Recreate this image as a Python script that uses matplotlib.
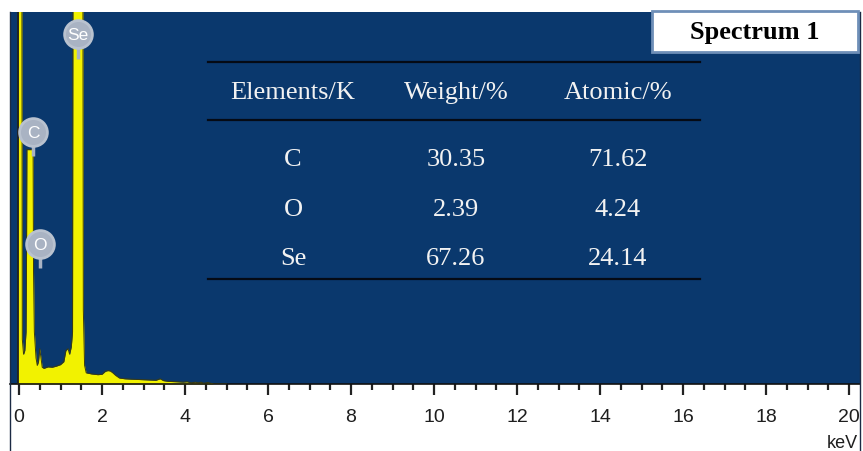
import numpy as np
import matplotlib.pyplot as plt
from matplotlib.patches import Rectangle
from matplotlib.lines import Line2D

# EDS spectrum, energy in keV and counts (arbitrary units, 100 = top of frame)
energy = [-0.04, -0.03, -0.02, 0.07, 0.08, 0.11, 0.14, 0.17, 0.18, 0.19, 0.34, 0.35,
          0.37, 0.41, 0.44, 0.47, 0.50, 0.53, 0.56, 0.60, 0.70, 0.80, 0.90, 1.00,
          1.08, 1.13, 1.18, 1.22, 1.26, 1.29, 1.30, 1.54, 1.55, 1.58, 1.62, 1.75,
          1.90, 2.00, 2.08, 2.14, 2.20, 2.26, 2.33, 2.42, 2.55, 2.70, 2.90, 3.10,
          3.30, 3.40, 3.48, 3.60, 3.80, 3.95, 4.05, 4.15, 4.25, 4.32, 4.38, 4.45,
          4.55, 4.62, 4.70, 5.00]
counts = [0, 0, 110, 110, 12, 8, 9, 14, 30, 63, 63, 30,
          14, 7, 5, 6, 9.5, 7, 4.5, 4.2, 4.6, 4.5, 4.8, 5.2,
          6.0, 9.0, 9.5, 8.0, 10, 14, 110, 110, 20, 5, 3, 2.7,
          2.5, 2.6, 3.4, 3.6, 3.5, 3.0, 2.3, 1.6, 1.4, 1.3, 1.2, 1.1,
          1.0, 1.4, 0.9, 0.7, 0.6, 0.5, 0.6, 0.3, 0.5, 0.3, 0.5, 0.2,
          0.4, 0.2, 0.0, 0.0]

# peak markers: element, energy, label height
peak_names = ['Se', 'C', 'O']
peak_energy = [1.42, 0.34, 0.51]
peak_height = [94, 67.7, 37.6]

# quantification table
table_header = ['Elements/K', 'Weight/%', 'Atomic/%']
elements = ['C', 'O', 'Se']
weight = ['30.35', '2.39', '67.26']
atomic = ['71.62', '4.24', '24.14']

W, H = 863, 452
fig = plt.figure(figsize=(W / 100, H / 100), dpi=100)
fig.patch.set_facecolor('white')

# plot frame in pixels: left 10, right 860, top 13, bottom 385
L, R, T, B = 10, 860, 13, 385
ax = fig.add_axes([L / W, 1 - B / H, (R - L) / W, (B - T) / H])
ax.set_facecolor('#0a386d')

ax.fill_between(energy, counts, 0, color='#f2f200', lw=0, zorder=2)
ax.plot(energy, counts, color='#3b3b10', lw=0.7, zorder=3)
ax.axvline(-0.03, color='#202020', lw=1.2, zorder=3)

ax.set_xlim((L - 19) / 41.5, (R - 19) / 41.5)
ax.set_ylim(0, 100)

ax.set_xticks(np.arange(0, 21, 2))
ax.set_xticks(np.arange(0, 20.5, 0.5), minor=True)
ax.tick_params(axis='x', which='major', direction='out', length=8, width=1.6,
               color='#222222', labelsize=14, labelcolor='#1e1e1e', pad=9)
ax.tick_params(axis='x', which='minor', direction='out', length=4, width=1.6,
               color='#222222')
for lab in ax.get_xticklabels():
    lab.set_family(['Liberation Sans', 'DejaVu Sans'])
ax.set_yticks([])
for side in ['top', 'right', 'left']:
    ax.spines[side].set_visible(False)
ax.spines['bottom'].set_color('#111111')
ax.spines['bottom'].set_linewidth(1.2)

# element markers
for name, e, h in zip(peak_names, peak_energy, peak_height):
    ax.plot([e, e], [h - 6.5, h - 3], color='#a9b3c3', lw=2.5, zorder=4,
            solid_capstyle='butt')
    ax.scatter([e], [h], s=400, color='#a9b3c3', edgecolor='#b9c2cf',
               linewidth=2, zorder=5)
    ax.text(e, h, name, ha='center', va='center', color='white', fontsize=12.5,
            family=['Liberation Sans', 'DejaVu Sans'], zorder=6)

# table drawn in axes fraction
tx0, tx1 = (208 - L) / (R - L), (700 - L) / (R - L)
for py in [63, 121, 280]:
    yy = (B - py) / (B - T)
    ax.add_line(Line2D([tx0, tx1], [yy, yy], transform=ax.transAxes,
                       color='#050a14', lw=1.6, zorder=4))

col_x = [(293 - L) / (R - L), (456 - L) / (R - L), (618 - L) / (R - L)]
row_y = [(B - py) / (B - T) for py in [93, 160, 210, 259]]
rows = [table_header] + [list(r) for r in zip(elements, weight, atomic)]
for ry, row in zip(row_y, rows):
    for cx, cell in zip(col_x, row):
        ax.text(cx, ry, cell, transform=ax.transAxes, ha='center', va='center',
                color='#f2f2f2', fontsize=19, family='Liberation Serif', zorder=5)

# title box
box = Rectangle((652 / W, 1 - 53 / H), (858 - 652) / W, (53 - 12) / H,
                transform=fig.transFigure, facecolor='white',
                edgecolor='#6f8fb8', lw=2, zorder=10)
fig.patches.append(box)
fig.text(755 / W, 1 - 33 / H, 'Spectrum 1', ha='center', va='center',
         fontsize=19, fontweight='bold', family='Liberation Serif', color='black',
         zorder=11)

# frame edges running down past the axis
for px in [L, R]:
    fig.add_artist(Line2D([px / W, px / W], [0, 1 - T / H], transform=fig.transFigure,
                          color='#1b2a44', lw=1.0))

fig.text(858 / W, 1 - 444 / H, 'keV', ha='right', va='center', fontsize=13,
         family=['Liberation Sans', 'DejaVu Sans'], color='#1e1e1e')

fig.savefig('out.png', dpi=100)
